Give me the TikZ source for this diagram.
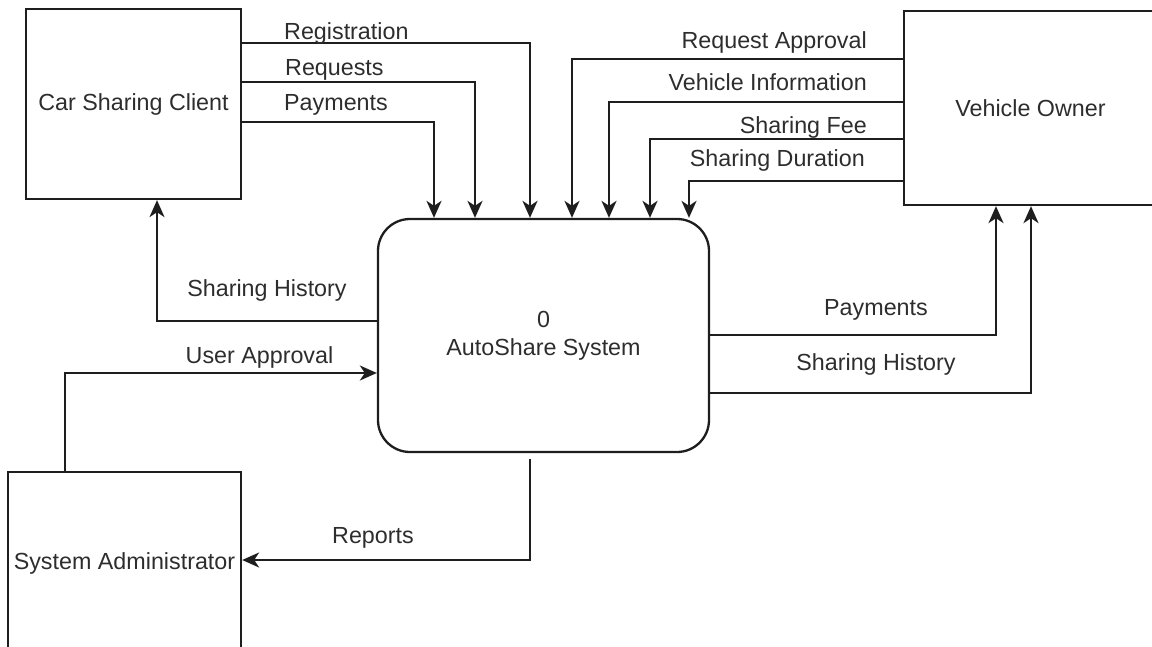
\documentclass[tikz,border=0pt]{standalone}
\usepackage{fontspec}
\setmainfont{Liberation Sans}
\usetikzlibrary{arrows.meta}
\definecolor{ink}{RGB}{30,30,30}
\definecolor{txt}{RGB}{45,45,45}
\begin{document}
\begin{tikzpicture}[x=1pt,y=-1pt,
  font=\fontsize{23.3pt}{28pt}\selectfont,
  entity/.style={draw=ink, line width=2.3pt, rectangle, inner sep=0pt, text=txt},
  process/.style={draw=ink, line width=2.3pt, rectangle, rounded corners=32pt, inner sep=0pt, align=center, text=txt},
  flow/.style={draw=ink, line width=2.3pt, -{Stealth[length=17pt,width=15pt,inset=5pt]}},
  lbl/.style={inner sep=0pt, text=txt}]
  \path[use as bounding box, clip] (0,0) rectangle (1152,646);

  % external entities and the central process
  \node[entity, minimum width=215pt, minimum height=190pt] (client) at (133.5,104) {Car Sharing Client};
  \node[entity, minimum width=253pt, minimum height=194pt] (owner) at (1030.5,108) {Vehicle Owner};
  \node[entity, minimum width=233pt, minimum height=182pt] (admin) at (124.5,563) {System Administrator};
  \node[process, minimum width=331pt, minimum height=233pt] (proc) at (543.5,335.5) {0\\AutoShare System};

  % client -> system
  \draw[flow] (client.east |- 0,43) -| (proc.north -| 530,0);
  \draw[flow] (client.east |- 0,82) -| (proc.north -| 475,0);
  \draw[flow] (client.east |- 0,122) -| (proc.north -| 434,0);
  \node[lbl, anchor=base west] (lreg) at (284,39) {Registration};
  \node[lbl, anchor=base west] (lreq) at (285,75) {Requests};
  \node[lbl, anchor=base west] (lpay) at (284,110) {Payments};

  % owner -> system
  \draw[flow] (owner.west |- 0,59) -| (proc.north -| 572,0);
  \draw[flow] (owner.west |- 0,102) -| (proc.north -| 609,0);
  \draw[flow] (owner.west |- 0,139) -| (proc.north -| 650,0);
  \draw[flow] (owner.west |- 0,181) -| (proc.north -| 689,0);
  \node[lbl, anchor=base east] (lrap) at (867,48) {Request Approval};
  \node[lbl, anchor=base east] (lvin) at (867,90) {Vehicle Information};
  \node[lbl, anchor=base east] (lfee) at (867,133) {Sharing Fee};
  \node[lbl, anchor=base east] (ldur) at (865,166) {Sharing Duration};

  % system -> client, admin -> system
  \draw[flow] (proc.west |- 0,321) -| (client.south -| 157,0);
  \node[lbl, anchor=base] (lhist) at (267,296) {Sharing History};
  \draw[flow] (admin.north -| 65,0) |- (proc.west |- 0,373);
  \node[lbl, anchor=base] (luap) at (259.5,363) {User Approval};

  % system -> admin
  \draw[flow, shorten <=6pt] (proc.south -| 530,0) |- (admin.east |- 0,560);
  \node[lbl, anchor=base] (lrep) at (373,543) {Reports};

  % system -> owner
  \draw[flow] (proc.east |- 0,335) -| (owner.south -| 996,0);
  \draw[flow] (proc.east |- 0,393) -| (owner.south -| 1031,0);
  \node[lbl, anchor=base] (lpay2) at (876,315) {Payments};
  \node[lbl, anchor=base] (lhist2) at (876,370) {Sharing History};
\end{tikzpicture}
\end{document}
